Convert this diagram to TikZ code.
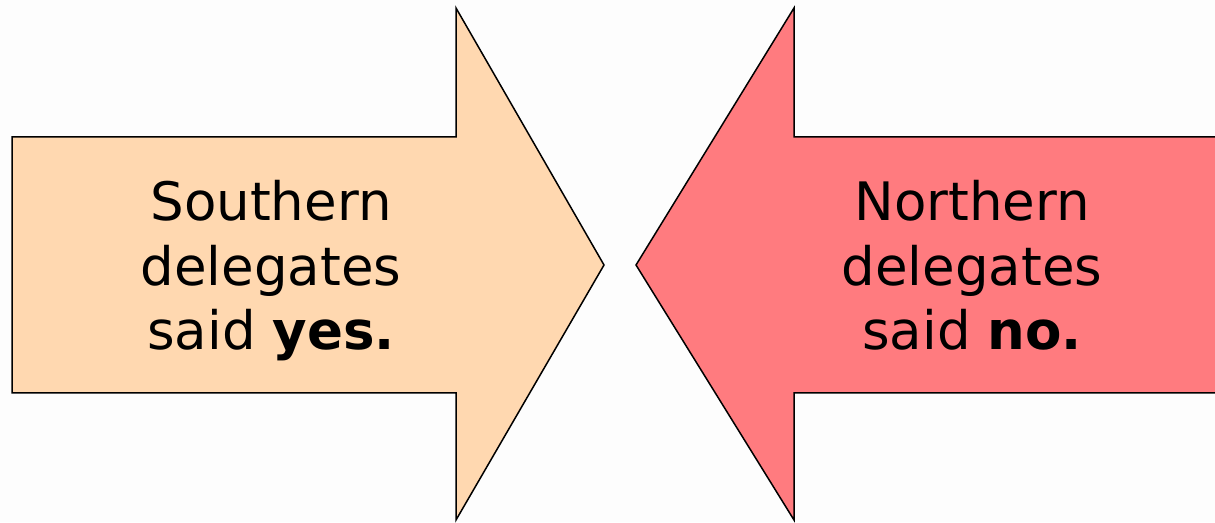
\documentclass[tikz,border=0pt]{standalone}
\usepackage{fontspec}
\setmainfont{DejaVu Sans}
\definecolor{bgc}{HTML}{FDFDFD}
\definecolor{southc}{HTML}{FFD8B0}
\definecolor{northc}{HTML}{FF7B7F}
\begin{document}
\begin{tikzpicture}[x=1pt,y=1pt,
  arrowshape/.style={draw=black,line width=1.5pt,line join=miter},
  label/.style={anchor=base,font=\fontsize{53}{64}\selectfont,text=black,inner sep=0pt}]
\fill[bgc] (0,0) rectangle (1215,522);
\useasboundingbox (0,0) rectangle (1215,522);
% left arrow (Southern)
\filldraw[arrowshape,fill=southc] (12,385) -- (456,385) -- (456,514) -- (604,257) -- (456,2) -- (456,129) -- (12,129) -- cycle;
% right arrow (Northern)
\filldraw[arrowshape,fill=northc] (1217,385) -- (794,385) -- (794,514) -- (636,257) -- (794,2) -- (794,129) -- (1217,129);
\node[label] (s1) at (271,301) {Southern};
\node[label] (s2) at (271,236.5) {delegates};
\node[label] (s3) at (271,172) {said \textbf{yes.}};
\node[label] (n1) at (972,301) {Northern};
\node[label] (n2) at (972,236.5) {delegates};
\node[label] (n3) at (972,172) {said \textbf{no.}};
\end{tikzpicture}
\end{document}
